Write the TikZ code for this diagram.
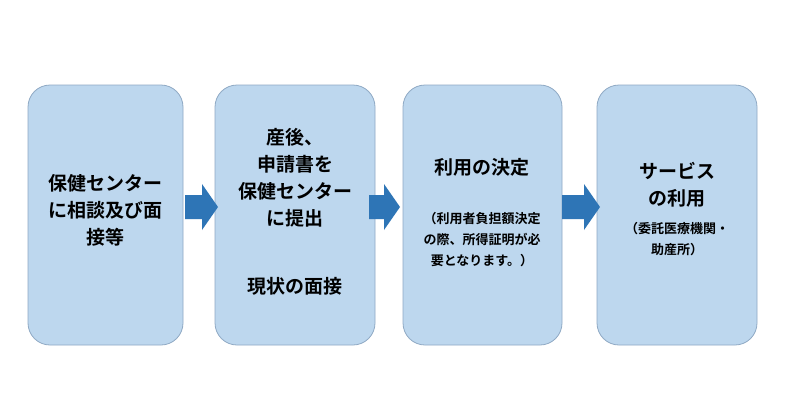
\documentclass[tikz,border=0pt]{standalone}
\usepackage{fontspec}
\setmainfont{Noto Sans CJK JP}[BoldFont={Noto Sans CJK JP Bold}]
\definecolor{boxfill}{HTML}{BDD7EE}
\definecolor{boxline}{HTML}{8FA9C4}
\definecolor{arr}{HTML}{2E75B6}
\tikzset{
  stepbox/.style={draw=boxline,line width=0.8pt,fill=boxfill,rounded corners=22pt},
  big/.style={font=\fontsize{19}{27}\selectfont\bfseries,align=center,inner sep=0},
  small/.style={font=\fontsize{13}{21}\selectfont\bfseries,align=center,inner sep=0},
  blk/.style={fill=arr,draw=none}
}
\newcommand{\blockarrow}[2]{% start x, end x
  \fill[blk] (#1,195) -- ({#2-16},195) -- ({#2-16},184) -- (#2,207) -- ({#2-16},230) -- ({#2-16},219) -- (#1,219) -- cycle;}
\begin{document}
\begin{tikzpicture}[x=1pt,y=-1pt]
\useasboundingbox (0,0) rectangle (800,400);
\fill[white] (0,0) rectangle (800,400);
\draw[stepbox] (28,85) rectangle (183,345);
\draw[stepbox] (215,85) rectangle (375,345);
\draw[stepbox] (403,85) rectangle (562,345);
\draw[stepbox] (597,85) rectangle (757,345);
\blockarrow{185}{218}
\blockarrow{369}{400}
\blockarrow{562}{600}
\node[big] (t1) at (105,210) {保健センター\\に相談及び面\\接等};
\node[big] (t2) at (295,178) {産後、\\申請書を\\保健センター\\に提出};
\node[big] (t2b) at (295,286) {現状の面接};
\node[big] (t3) at (482,167) {利用の決定};
\node[small] (s3) at (482,240) {（利用者負担額決定\\の際、所得証明が必\\要となります。）};
\node[big] (t4) at (677,185) {サービス\\の利用};
\node[small] (s4) at (677,239) {（委託医療機関・\\助産所）};
\end{tikzpicture}
\end{document}
